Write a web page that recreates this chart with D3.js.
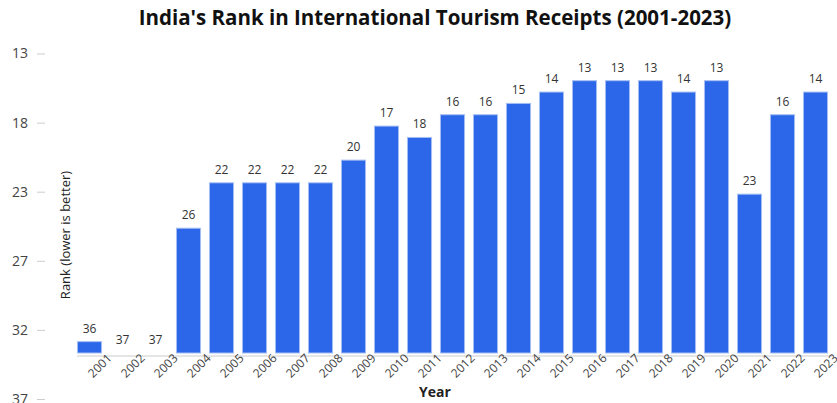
<!DOCTYPE html>
<html>
<head>
<meta charset="utf-8">
<script src="https://cdn.jsdelivr.net/npm/d3@7"></script>
<style>
  body { margin: 0; background: #fff; }
  text { font-family: "Open Sans", "Noto Sans", sans-serif; }
</style>
</head>
<body>
<div id="chart-container"></div>
<script>
// data
const years = ['2001','2002','2003','2004','2005','2006','2007','2008','2009','2010','2011','2012',
  '2013','2014','2015','2016','2017','2018','2019','2020','2021','2022','2023'];
const ranks = [36, 37, 37, 26, 22, 22, 22, 22, 20, 17, 18, 16, 16, 15, 14, 13, 13, 13, 14, 13, 23, 16, 14];
const yTicks = [13, 17.8, 22.6, 27.4, 32.2, 37];

const data = years.map((y, i) => ({ year: y, rank: ranks[i] }));

const svgWidth = 837;
const svgHeight = 403;

const svg = d3.select('#chart-container')
  .append('svg')
  .attr('width', svgWidth)
  .attr('height', svgHeight);

// title
svg.append('text')
  .attr('x', 435)
  .attr('y', 25)
  .attr('text-anchor', 'middle')
  .style('font-size', '20.5px')
  .style('font-weight', 'bold')
  .attr('fill', '#111')
  .text("India's Rank in International Tourism Receipts (2001-2023)");

// scales
const xScale = d3.scaleBand()
  .domain(years)
  .range([73, 832])
  .paddingInner(0.27)
  .paddingOuter(0.135);

// bars grow from the bottom, rank 37 = no bar
const barScale = d3.scaleLinear()
  .domain([37, 13])
  .range([353, 80.7]);

// the rank axis on the left (spans a taller range than the bars)
const yScale = d3.scaleLinear()
  .domain([13, 37])
  .range([53.5, 399]);

const yAxis = svg.append('g')
  .attr('transform', 'translate(45,0)')
  .call(d3.axisLeft(yScale).tickValues(yTicks).tickFormat(d3.format('.0f')).tickSize(8).tickPadding(9));
yAxis.select('.domain').remove();
yAxis.selectAll('line').attr('stroke', '#ccc');
yAxis.selectAll('text')
  .attr('fill', '#444')
  .style('font-size', '14px')
  .style('font-family', '"Open Sans", sans-serif');

// x axis line
svg.append('line')
  .attr('x1', 77).attr('x2', 832)
  .attr('y1', 356).attr('y2', 356)
  .attr('stroke', '#ddd')
  .attr('stroke-width', 1.5);

// bars
svg.selectAll('rect.bar')
  .data(data)
  .enter()
  .append('rect')
  .attr('class', 'bar')
  .attr('x', d => xScale(d.year))
  .attr('y', d => barScale(d.rank))
  .attr('width', xScale.bandwidth())
  .attr('height', d => barScale(37) - barScale(d.rank))
  .attr('fill', '#2b67e8')
  .attr('stroke', '#a6bff3')
  .attr('stroke-width', 1);

// value labels
svg.selectAll('text.bar-label')
  .data(data)
  .enter()
  .append('text')
  .attr('class', 'bar-label')
  .attr('x', d => xScale(d.year) + xScale.bandwidth() / 2)
  .attr('y', d => barScale(d.rank) - 9)
  .attr('text-anchor', 'middle')
  .attr('fill', '#333')
  .style('font-size', '12px')
  .text(d => d.rank);

// year labels, rotated
svg.selectAll('text.year-label')
  .data(years)
  .enter()
  .append('text')
  .attr('class', 'year-label')
  .attr('transform', d => `translate(${xScale(d) + xScale.bandwidth() / 2 + 23},359) rotate(-45)`)
  .attr('text-anchor', 'end')
  .attr('fill', '#444')
  .style('font-size', '12px')
  .text(d => d);

// axis titles
svg.append('text')
  .attr('x', 435)
  .attr('y', 397)
  .attr('text-anchor', 'middle')
  .style('font-size', '14px')
  .style('font-weight', 'bold')
  .attr('fill', '#222')
  .text('Year');

svg.append('text')
  .attr('transform', 'translate(70,235) rotate(-90)')
  .attr('text-anchor', 'middle')
  .style('font-size', '13px')
  .attr('fill', '#222')
  .text('Rank (lower is better)');
</script>
</body>
</html>
